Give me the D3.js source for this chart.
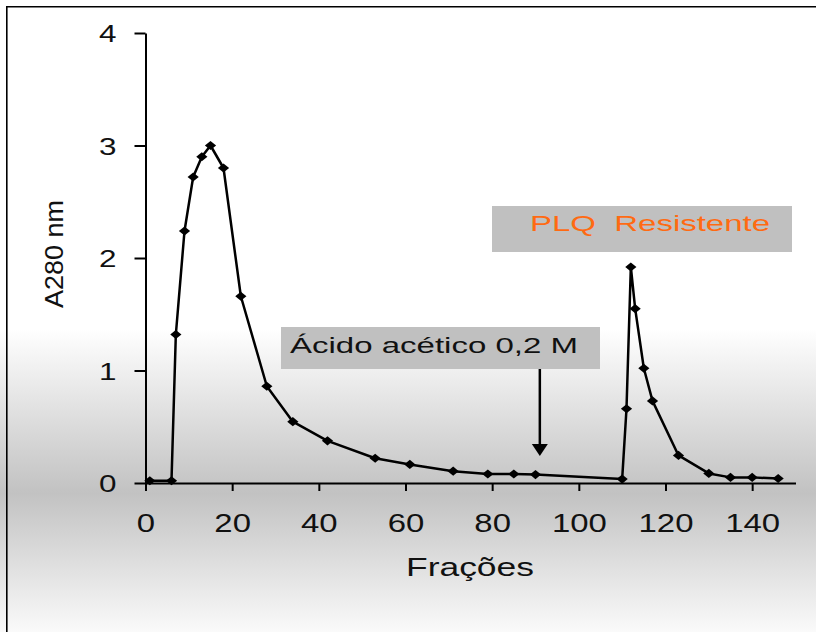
<!DOCTYPE html>
<html>
<head>
<meta charset="utf-8">
<script src="https://cdn.jsdelivr.net/npm/d3@7"></script>
<style>
  html, body { margin: 0; padding: 0; background: #fff; }
  svg { display: block; }
  text { font-family: "Liberation Sans", Arial, Helvetica, sans-serif; }
</style>
</head>
<body>
<svg id="chart" width="816" height="632"></svg>
<script>
// Elution profile: absorbance at 280 nm per collected fraction
const fractions = [1, 6, 7, 9, 11, 13, 15, 18, 22, 28, 34, 42, 53, 61, 71, 79, 85, 90,
                   110, 111, 112, 113, 115, 117, 123, 130, 135, 140, 146];
const a280 = [0.02, 0.02, 1.32, 2.24, 2.72, 2.90, 3.00, 2.80, 1.66, 0.86, 0.545, 0.375, 0.22, 0.165, 0.105, 0.08, 0.08, 0.075,
              0.035, 0.66, 1.92, 1.55, 1.02, 0.73, 0.245, 0.085, 0.05, 0.05, 0.04];

const xTicks = [0, 20, 40, 60, 80, 100, 120, 140];
const yTicks = [0, 1, 2, 3, 4];

// Fraction where the acetic acid elution starts
const elutionFraction = 91;

const xLabel = "Frações";
const yLabel = "A280 nm";
const elutionLabel = "Ácido acético 0,2 M";
const peakLabel = "PLQ  Resistente";

const svg = d3.select("#chart");

// Background shading
const defs = svg.append("defs");
const grad = defs.append("linearGradient")
  .attr("id", "bg").attr("x1", 0).attr("y1", 0).attr("x2", 0).attr("y2", 1);
[[0, "#ffffff"], [0.52, "#ffffff"], [0.78, "#c2c2c2"], [1, "#fafafa"]]
  .forEach(([o, c]) => grad.append("stop").attr("offset", o).attr("stop-color", c));

svg.append("rect").attr("x", 0).attr("y", 0).attr("width", 816).attr("height", 632)
  .attr("fill", "url(#bg)");

// Frame
svg.append("path")
  .attr("d", "M6.8,640 L6.8,6.8 L820,6.8")
  .attr("fill", "none").attr("stroke", "#000").attr("stroke-width", 1.6);

const x = d3.scaleLinear().domain([0, 150]).range([145.5, 795.5]);
const y = d3.scaleLinear().domain([0, 4]).range([483, 33]);

const fmt = d3.format("d");
const digitW = 18.3;

// X axis
const gx = svg.append("g").attr("transform", `translate(0,${y(0)})`)
  .call(d3.axisBottom(x).tickValues(xTicks).tickFormat(fmt).tickSize(8).tickSizeOuter(0));
gx.select(".domain").attr("stroke-width", 2);
gx.selectAll(".tick line").attr("stroke-width", 2);
gx.selectAll(".tick text")
  .attr("y", 49).attr("dy", 0)
  .attr("font-size", 25).attr("fill", "#111")
  .attr("textLength", d => fmt(d).length * digitW)
  .attr("lengthAdjust", "spacingAndGlyphs");

// Y axis
const gy = svg.append("g").attr("transform", `translate(${x(0)},0)`)
  .call(d3.axisLeft(y).tickValues(yTicks).tickFormat(fmt).tickSize(11).tickSizeOuter(0));
gy.select(".domain").attr("stroke-width", 2);
gy.selectAll(".tick line").attr("stroke-width", 2);
gy.selectAll(".tick text")
  .attr("x", -29).attr("dy", "0.36em")
  .attr("font-size", 24).attr("fill", "#111")
  .attr("text-anchor", "end")
  .attr("textLength", d => fmt(d).length * 17.5)
  .attr("lengthAdjust", "spacingAndGlyphs");

// Axis titles
svg.append("text")
  .attr("x", 470).attr("y", 576)
  .attr("text-anchor", "middle").attr("font-size", 26).attr("fill", "#111")
  .attr("textLength", 128).attr("lengthAdjust", "spacingAndGlyphs")
  .text(xLabel);

svg.append("text")
  .attr("transform", "translate(63,254) rotate(-90)")
  .attr("text-anchor", "middle").attr("font-size", 25).attr("fill", "#111")
  .attr("textLength", 108).attr("lengthAdjust", "spacingAndGlyphs")
  .text(yLabel);

// Profile line
const line = d3.line().x((d, i) => x(fractions[i])).y(d => y(d));
svg.append("path")
  .datum(a280)
  .attr("d", line)
  .attr("fill", "none").attr("stroke", "#000").attr("stroke-width", 2.5)
  .attr("stroke-linejoin", "round");

// Diamond markers
const diamond = "M0,-4.6L5.6,0L0,4.6L-5.6,0Z";
svg.append("g").selectAll("path")
  .data(a280)
  .join("path")
  .attr("transform", (d, i) => `translate(${x(fractions[i])},${y(d)})`)
  .attr("d", diamond)
  .attr("fill", "#000");

// Elution annotation with arrow
svg.append("rect")
  .attr("x", 281).attr("y", 327).attr("width", 319).attr("height", 42)
  .attr("fill", "#c0c0c0");
svg.append("text")
  .attr("x", 290).attr("y", 353)
  .attr("font-size", 22).attr("fill", "#111")
  .attr("textLength", 288).attr("lengthAdjust", "spacingAndGlyphs")
  .text(elutionLabel);

const ax = x(elutionFraction);
svg.append("line")
  .attr("x1", ax).attr("x2", ax).attr("y1", 369).attr("y2", 446)
  .attr("stroke", "#000").attr("stroke-width", 2.5);
svg.append("path")
  .attr("d", `M${ax - 8},444 L${ax + 8},444 L${ax},456 Z`)
  .attr("fill", "#000");

// Second peak label
svg.append("rect")
  .attr("x", 492).attr("y", 206).attr("width", 300).attr("height", 46)
  .attr("fill", "#c0c0c0");
svg.append("text")
  .attr("x", 530).attr("y", 231)
  .attr("font-size", 22).attr("fill", "#ff6a12")
  .style("white-space", "pre")
  .attr("textLength", 240).attr("lengthAdjust", "spacingAndGlyphs")
  .text(peakLabel);
</script>
</body>
</html>
